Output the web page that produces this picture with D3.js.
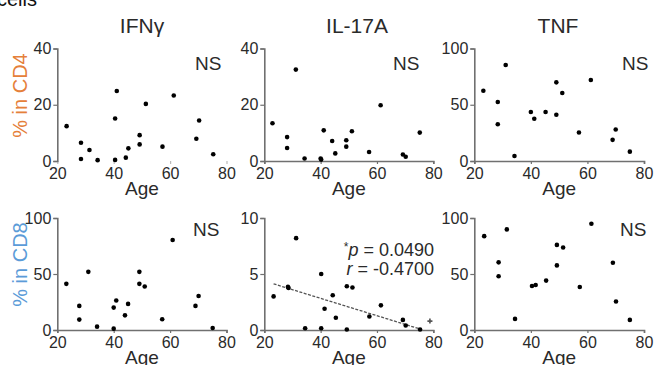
<!DOCTYPE html>
<html>
<head>
<meta charset="utf-8">
<script src="https://cdn.jsdelivr.net/npm/d3@7"></script>
<style>
  html, body { margin: 0; padding: 0; background: #fff; }
  svg { display: block; font-family: "Liberation Sans", Arial, sans-serif; }
</style>
</head>
<body>
<svg id="chart" width="656" height="365"></svg>
<script>
// ---- data ----
const columnTitles = ["IFNγ", "IL-17A", "TNF"];
const rowLabels = ["% in CD4", "% in CD8"];
const xTicks = [20, 40, 60, 80];
const yTicksCD4 = [[0, 20, 40], [0, 20, 40], [0, 50, 100]];
const yTicksCD8 = [[0, 50, 100], [0, 5, 10], [0, 50, 100]];

const ageIFNgCD4 = [23.3, 28.4, 28.4, 31.4, 34.3, 40.5, 40.5, 41.1, 44.3, 45.2, 49.2, 49.2, 51.4, 57.3, 61.3, 69.3, 70.3, 75.3];
const valIFNgCD4 = [12.4, 6.5, 0.7, 3.9, 0.3, 15.1, 0.4, 24.9, 1.2, 4.5, 9.2, 5.9, 20.3, 5.1, 23.3, 7.9, 14.4, 2.4];

const ageIL17CD4 = [22.9, 28.1, 28.1, 31.2, 34.3, 40.0, 40.2, 41.1, 44.1, 45.2, 49.1, 49.1, 51.1, 57.2, 61.3, 69.2, 70.2, 75.2];
const valIL17CD4 = [13.4, 8.5, 4.6, 32.5, 0.9, 0.9, 0.5, 10.9, 7.1, 2.7, 7.4, 5.1, 10.6, 3.2, 19.8, 2.3, 1.5, 10.1];

const ageTNFCD4 = [23.2, 28.3, 28.3, 31.1, 34.2, 40.0, 41.2, 45.2, 49.0, 49.0, 51.1, 57.0, 61.2, 68.9, 70.0, 75.0];
const valTNFCD4 = [62.5, 52.4, 32.7, 85.4, 4.5, 43.5, 37.5, 43.5, 69.9, 41.1, 60.4, 25.3, 72.0, 18.8, 28.0, 8.3];

const ageIFNgCD8 = [23.2, 27.8, 27.8, 31.0, 34.1, 40.0, 40.0, 40.9, 44.0, 45.1, 49.1, 49.1, 51.0, 57.2, 60.9, 69.0, 70.1, 75.1];
const valIFNgCD8 = [41.2, 21.5, 9.3, 51.9, 3.0, 20.0, 1.2, 26.3, 13.1, 23.3, 51.9, 41.2, 38.8, 9.6, 80.3, 21.5, 30.4, 1.8];

const ageIL17CD8 = [23.3, 28.4, 28.6, 31.3, 34.5, 40.2, 40.2, 41.4, 44.3, 45.4, 49.3, 49.3, 51.3, 57.3, 61.4, 69.2, 70.2, 75.3];
const valIL17CD8 = [3.0, 3.85, 3.75, 8.2, 0.15, 5.0, 0.15, 1.9, 3.1, 1.1, 3.9, 0.05, 3.8, 1.2, 2.2, 0.9, 0.4, 0.05];

const ageTNFCD8 = [23.5, 28.6, 28.6, 31.5, 34.4, 40.4, 41.7, 45.4, 49.2, 49.2, 51.4, 57.3, 61.4, 69.0, 70.1, 75.0];
const valTNFCD8 = [83.8, 60.4, 48.0, 89.8, 9.9, 39.3, 40.2, 44.1, 76.0, 57.7, 73.6, 38.4, 94.9, 60.1, 25.5, 9.0];

// regression line for IL-17A in CD8
const fitAge = [23.3, 75.3];
const fitVal = [4.12, 0.09];
// small stray "+" mark
const plusAge = [78.8];
const plusVal = [0.8];

const statLines = ["p = 0.0490", "r = -0.4700"];
const nsLabel = "NS";

// ---- layout ----
const svg = d3.select("#chart");
const colX = [[57.3, 226.5], [264.3, 433.3], [474.3, 644]];
const rowY = [[161, 48.5], [330, 218]];
const rowColors = ["#e5803a", "#5b9bd8"];
const axisColor = "#707070";
const textColor = "#2a2a2a";

const panels = [
  {r:0, c:0, ages: ageIFNgCD4, vals: valIFNgCD4, ticks: yTicksCD4[0], ns: true, nsX: 195, hideX: true},
  {r:0, c:1, ages: ageIL17CD4, vals: valIL17CD4, ticks: yTicksCD4[1], ns: true, nsX: 393},
  {r:0, c:2, ages: ageTNFCD4, vals: valTNFCD4, ticks: yTicksCD4[2], ns: true, nsX: 622},
  {r:1, c:0, ages: ageIFNgCD8, vals: valIFNgCD8, ticks: yTicksCD8[0], ns: true, nsX: 193},
  {r:1, c:1, ages: ageIL17CD8, vals: valIL17CD8, ticks: yTicksCD8[1], ns: false, fit: true},
  {r:1, c:2, ages: ageTNFCD8, vals: valTNFCD8, ticks: yTicksCD8[2], ns: true, nsX: 620},
];

// top-left cut-off text
svg.append("text").attr("x", -3).attr("y", 6).attr("font-size", 20).attr("fill", "#111").text("cells");

// column titles
const titleX = [142, 357, 558];
columnTitles.forEach((t, i) => {
  svg.append("text").attr("x", titleX[i]).attr("y", 33).attr("text-anchor", "middle")
    .attr("font-size", 21).attr("fill", textColor).text(t);
});

// row labels
const rowLabelY = [95.5, 264.5];
rowLabels.forEach((t, i) => {
  svg.append("text")
    .attr("transform", `translate(27,${rowLabelY[i]}) rotate(-90)`)
    .attr("text-anchor", "middle").attr("font-size", 20)
    .attr("fill", rowColors[i]).text(t);
});

panels.forEach(p => {
  const x = d3.scaleLinear().domain([20, 80]).range(colX[p.c]);
  const yMax = p.ticks[p.ticks.length - 1];
  const y = d3.scaleLinear().domain([0, yMax]).range(rowY[p.r]);
  const g = svg.append("g");

  // x axis
  const xa = g.append("g").attr("transform", `translate(0,${rowY[p.r][0]})`)
    .call(d3.axisBottom(x).tickValues(xTicks).tickSize(3).tickPadding(4).tickFormat(d3.format("d")));
  xa.select(".domain").attr("stroke", p.hideX ? "none" : axisColor).attr("stroke-width", 1.6);
  xa.selectAll(".tick line").attr("stroke", p.hideX ? "#bbb" : axisColor).attr("stroke-width", 1.2);
  xa.selectAll(".tick text").attr("font-size", 16).attr("fill", textColor)
    .attr("font-family", "Liberation Sans, Arial, sans-serif");

  // y axis
  const ya = g.append("g").attr("transform", `translate(${colX[p.c][0]},0)`)
    .call(d3.axisLeft(y).tickValues(p.ticks).tickSize(4).tickPadding(2).tickFormat(d3.format("d")));
  ya.select(".domain").attr("stroke", axisColor).attr("stroke-width", 1.6);
  ya.selectAll(".tick line").attr("stroke", axisColor).attr("stroke-width", 1.2);
  ya.selectAll(".tick text").attr("font-size", 16).attr("fill", textColor)
    .attr("font-family", "Liberation Sans, Arial, sans-serif");

  // "Age" label
  g.append("text").attr("x", (colX[p.c][0] + colX[p.c][1]) / 2)
    .attr("y", rowY[p.r][0] + 34).attr("text-anchor", "middle")
    .attr("font-size", 19).attr("fill", textColor).text("Age");

  // regression line
  if (p.fit) {
    g.append("line")
      .attr("x1", x(fitAge[0])).attr("y1", y(fitVal[0]))
      .attr("x2", x(fitAge[1])).attr("y2", y(fitVal[1]))
      .attr("stroke", "#555").attr("stroke-width", 1.3).attr("stroke-dasharray", "3,1.5");
    g.selectAll(".plus").data(plusAge).enter().append("path")
      .attr("d", d3.symbol().type(d3.symbolCross).size(14))
      .attr("transform", (d, i) => `translate(${x(d)},${y(plusVal[i])})`)
      .attr("fill", "#555");
    const st = g.append("g");
    const t1 = st.append("text").attr("x", 434).attr("y", 256).attr("text-anchor", "end")
      .attr("font-size", 18).attr("fill", textColor);
    t1.append("tspan").attr("font-size", 12).attr("dy", -5).text("*");
    t1.append("tspan").attr("font-style", "italic").attr("dy", 5).text("p");
    t1.append("tspan").text(statLines[0].slice(1));
    const t2 = st.append("text").attr("x", 434).attr("y", 275).attr("text-anchor", "end")
      .attr("font-size", 18).attr("fill", textColor);
    t2.append("tspan").attr("font-style", "italic").text("r");
    t2.append("tspan").text(statLines[1].slice(1));
  }

  // points
  g.selectAll("circle.pt").data(p.ages).enter().append("circle")
    .attr("class", "pt")
    .attr("cx", d => x(d))
    .attr("cy", (d, i) => y(p.vals[i]))
    .attr("r", 2.3).attr("fill", "#000");

  // NS label
  if (p.ns) {
    g.append("text").attr("x", p.nsX).attr("y", rowY[p.r][1] + (p.r === 0 ? 21.5 : 18))
      .attr("font-size", 19).attr("fill", textColor).text(nsLabel);
  }
});
</script>
</body>
</html>
